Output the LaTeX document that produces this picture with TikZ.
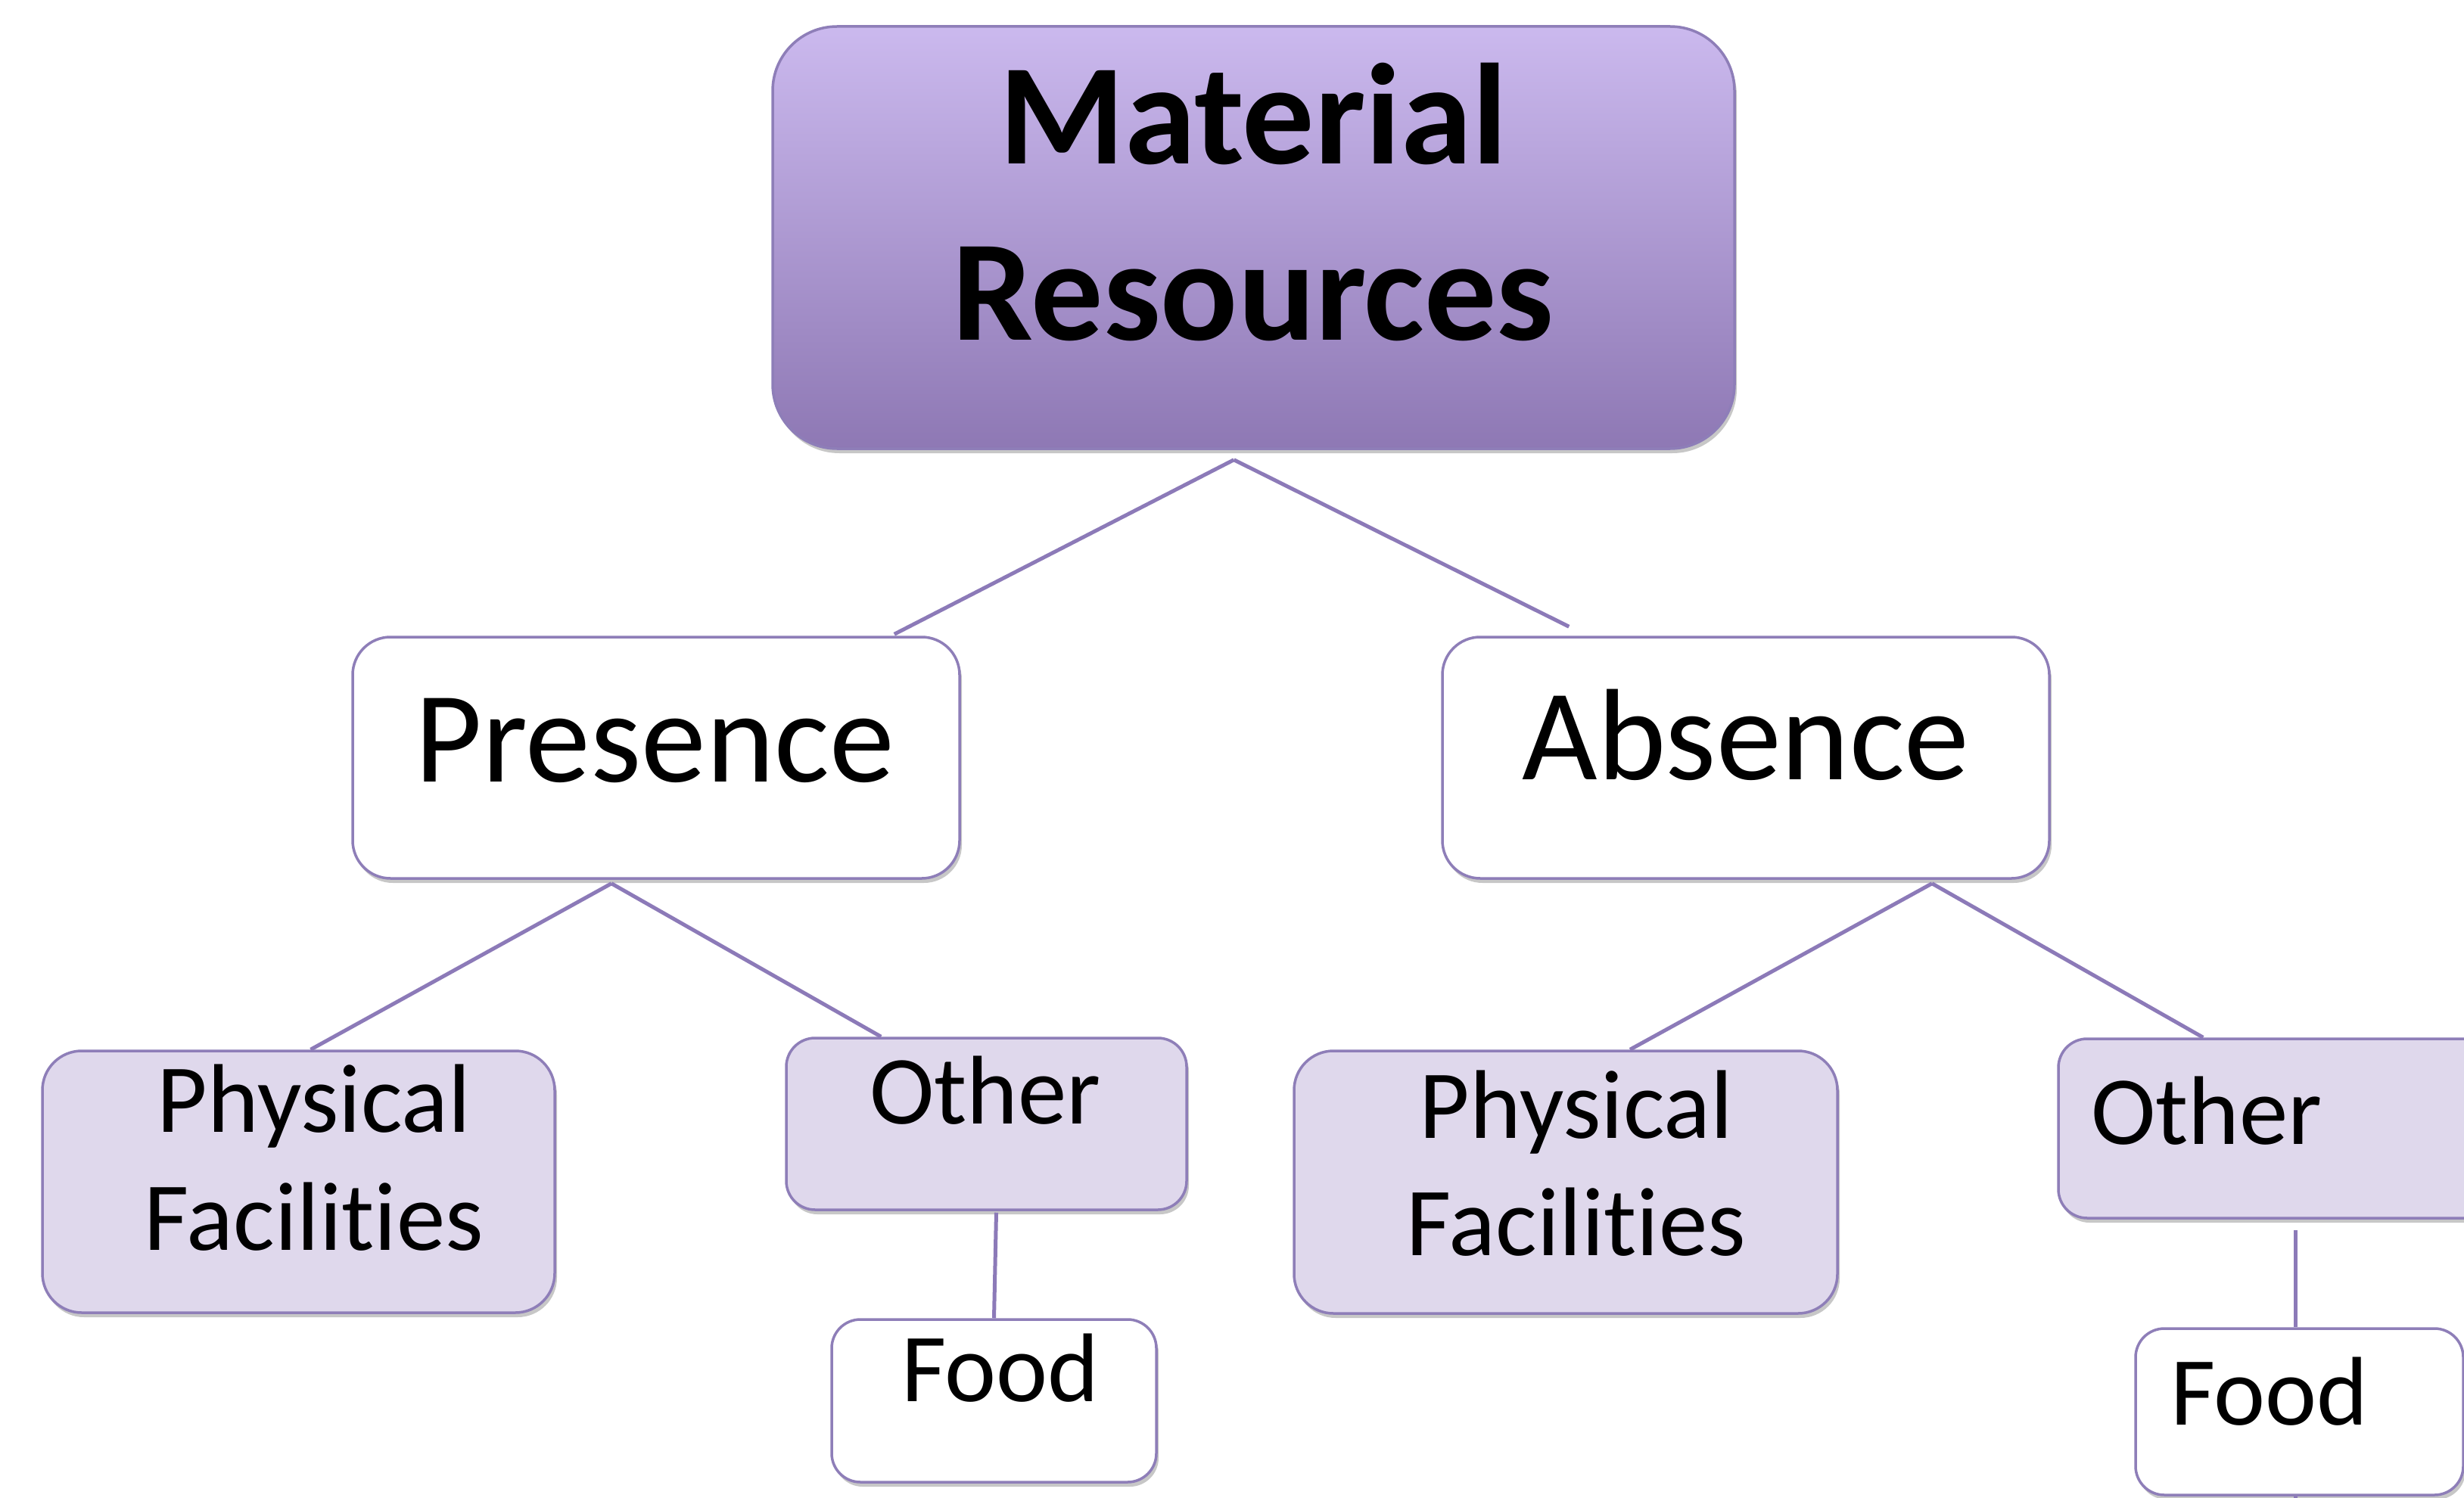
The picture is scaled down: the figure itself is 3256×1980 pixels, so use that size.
\documentclass[tikz,border=0pt]{standalone}
\usepackage{fontspec}
\setmainfont{Carlito}[Ligatures={NoCommon}]
\usetikzlibrary{calc,shadows}
\definecolor{lineC}{RGB}{140,122,184}
\definecolor{bordC}{RGB}{142,126,184}
\definecolor{fillC}{RGB}{223,216,236}
\definecolor{topC}{RGB}{203,185,238}
\definecolor{botC}{RGB}{142,120,180}
\begin{document}
\begin{tikzpicture}[x=1pt,y=-1pt,
  box/.style={draw=bordC, line width=3.5pt, rounded corners=#1, inner sep=0pt,
    drop shadow={shadow xshift=3pt, shadow yshift=-6pt, opacity=0.22, fill=black}},
  conn/.style={draw=lineC, line width=5pt},
  bigt/.style={anchor=base, inner sep=0pt, font=\fontsize{190}{232}\selectfont\bfseries},
  midt/.style={anchor=base, inner sep=0pt, font=\fontsize{172}{200}\selectfont},
  smlt/.style={anchor=base, inner sep=0pt, font=\fontsize{129}{156}\selectfont}]
\useasboundingbox (0,0) rectangle (3256,1980);
\clip (0,0) rectangle (3256,1980);
\fill[white] (0,0) rectangle (3256,1980);

% boxes
\node[box=85, top color=topC, bottom color=botC, minimum width=1271pt, minimum height=558pt] (mr) at (1656.5,314) {};
\node[box=50, fill=white, minimum width=802pt, minimum height=319pt] (pres) at (867,1001.5) {};
\node[box=50, fill=white, minimum width=802pt, minimum height=319pt] (abs) at (2307,1001.5) {};
\node[box=52, fill=fillC, minimum width=677pt, minimum height=346pt] (pf1) at (394.5,1562) {};
\node[box=38, fill=fillC, minimum width=529pt, minimum height=227pt] (oth1) at (1303.5,1485.5) {};
\node[box=38, fill=white, minimum width=429pt, minimum height=215pt] (food1) at (1313.5,1851.5) {};
\node[box=52, fill=fillC, minimum width=718pt, minimum height=347pt] (pf2) at (2069,1562.5) {};
\node[box=38, fill=fillC, minimum width=600pt, minimum height=237pt] (oth2) at (3020,1491.5) {};
\node[box=38, fill=white, minimum width=433pt, minimum height=220pt] (food2) at (3038.5,1866) {};

% texts
\node[bigt] (mr1) at (1656,217) {Material};
\node[bigt] (mr2) at (1656,449) {Resources};
\node[midt] (prest) at (865,1033) {Presence};
\node[midt] (abst) at (2307,1030) {Absence};
\node[smlt] (pf1a) at (415,1496) {Physical};
\node[smlt] (pf1b) at (415,1652) {Facilities};
\node[smlt] (oth1t) at (1302,1485) {Other};
\node[smlt] (food1t) at (1322,1852) {Food};
\node[smlt] (pf2a) at (2083,1504) {Physical};
\node[smlt] (pf2b) at (2083,1659) {Facilities};
\node[smlt] (oth2t) at (2916,1512) {Other};
\node[smlt] (food2t) at (2999,1883) {Food};

% connector points
\coordinate (mrb) at ($(mr.south)+(-26,13)$);
\coordinate (presb) at ($(pres.south)+(-59,5)$);
\coordinate (absb) at ($(abs.south)+(246,5)$);
\coordinate (oth1b) at ($(oth1.south)+(13,2)$);
\coordinate (oth2b) at ($(food2.north)+(-5,-128)$);
\coordinate (food2b) at ($(food2.south)+(-5,30)$);

% connectors
\draw[conn] (mrb) -- ($(pres.north east)+(-88,-2)$);
\draw[conn] (mrb) -- ($(abs.north west)+(169,-12)$);
\draw[conn] (presb) -- ($(pf1.north)+(16,0)$);
\draw[conn] (presb) -- ($(oth1.north west)+(127,0)$);
\draw[conn] (absb) -- ($(pf2.north)+(85,0)$);
\draw[conn] (absb) -- ($(oth2.north west)+(193,0)$);
\draw[conn] (oth1b) -- (food1.north);
\draw[conn] (oth2b) -- ($(food2.north)+(-5,0)$);
\draw[conn] ($(food2.south)+(-5,0)$) -- (food2b);
\end{tikzpicture}
\end{document}
